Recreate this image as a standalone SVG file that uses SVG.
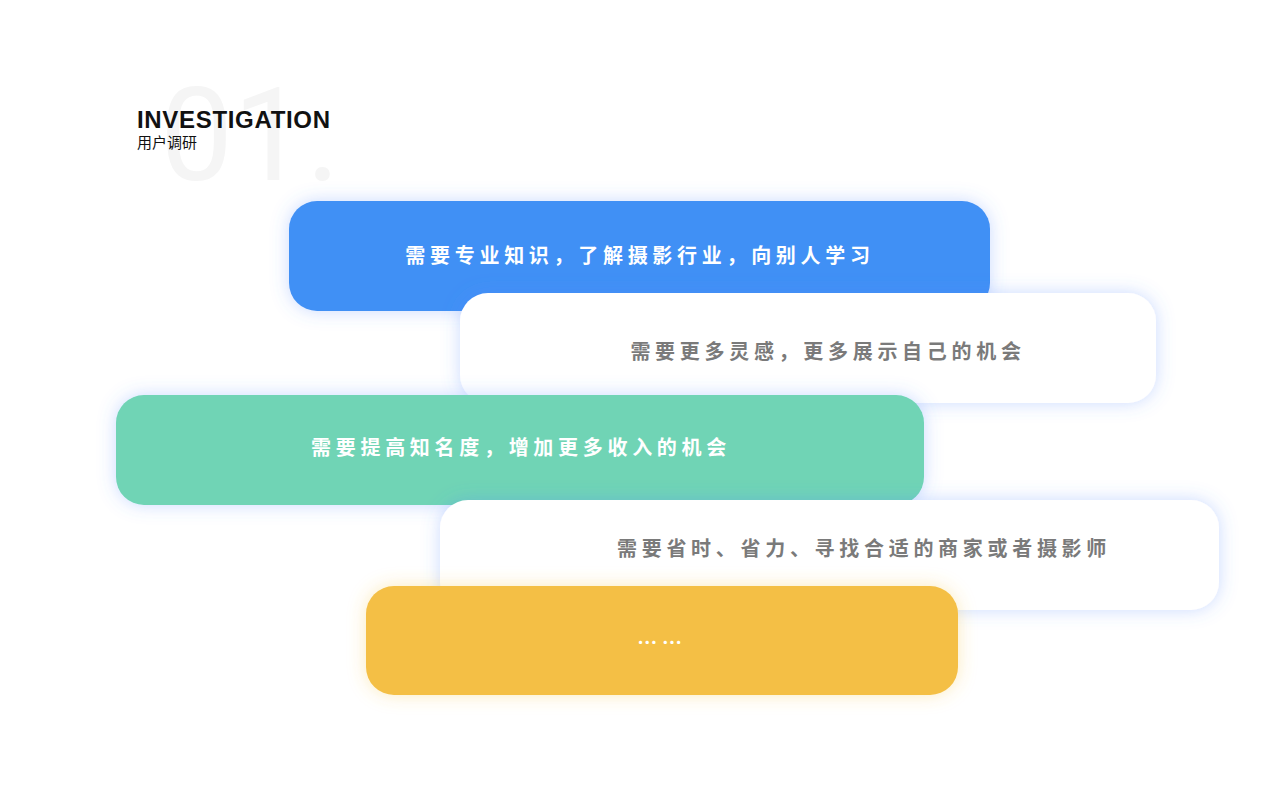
<svg xmlns="http://www.w3.org/2000/svg" width="1280" height="800" viewBox="0 0 1280 800">
<defs>
<filter id="sh" x="-20%" y="-40%" width="140%" height="180%"><feDropShadow dx="0" dy="0" stdDeviation="9" flood-color="#4d86ff" flood-opacity="0.3"/></filter>
<filter id="shy" x="-20%" y="-40%" width="140%" height="180%"><feDropShadow dx="0" dy="0" stdDeviation="9" flood-color="#f5c542" flood-opacity="0.35"/></filter>
<style>
.t{font-family:"Noto Sans CJK SC","Noto Sans",sans-serif;font-size:20px;font-weight:bold;letter-spacing:4.7px;text-anchor:middle}
.w{fill:#fff}.g{fill:#7a7a7a}
</style>
</defs>
<rect width="1280" height="800" fill="#fff"/>
<text x="160" y="180" font-family="Roboto,'Liberation Sans',sans-serif" font-size="130" fill="#f5f5f5">01.</text>
<text x="137" y="128" font-family="'Liberation Sans',sans-serif" font-size="24" font-weight="bold" fill="#111" textLength="193">INVESTIGATION</text>
<text x="137" y="148" font-family="'Noto Sans CJK SC',sans-serif" font-size="15" fill="#111">用户调研</text>
<g id="n1"><rect x="289" y="201" width="701" height="110" rx="28" fill="#4190f5" filter="url(#sh)"/><text class="t w" x="640" y="263">需要专业知识，了解摄影行业，向别人学习</text></g>
<g id="n2"><rect x="460" y="293" width="696" height="110" rx="28" fill="#fff" filter="url(#sh)"/><text class="t g" x="828" y="359">需要更多灵感，更多展示自己的机会</text></g>
<g id="n3"><rect x="116" y="395" width="808" height="110" rx="28" fill="#70d4b5" filter="url(#sh)"/><text class="t w" x="521" y="455">需要提高知名度，增加更多收入的机会</text></g>
<g id="n4"><rect x="440" y="500" width="779" height="110" rx="28" fill="#fff" filter="url(#sh)"/><text class="t g" x="864" y="556">需要省时、省力、寻找合适的商家或者摄影师</text></g>
<g id="n5"><rect x="366" y="586" width="592" height="109" rx="28" fill="#f4bf45" filter="url(#shy)"/><text class="t w" x="662" y="650">……</text></g>
<g id="connectors"/>
</svg>
